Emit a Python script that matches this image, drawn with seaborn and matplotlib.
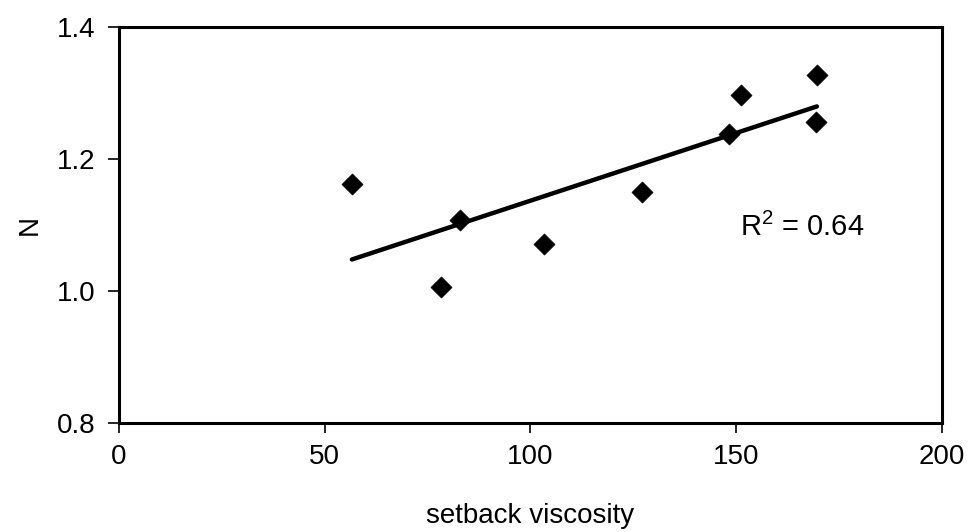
import matplotlib
matplotlib.use("Agg")
import matplotlib.pyplot as plt
import seaborn as sns
import pandas as pd

viscosity = [56.6, 78.2, 82.9, 103.3, 127.1, 148.2, 151.2, 169.6, 169.4]
n_values = [1.162, 1.006, 1.108, 1.071, 1.150, 1.238, 1.297, 1.327, 1.256]
x_ticks = [0, 50, 100, 150, 200]
y_ticks = [0.8, 1.0, 1.2, 1.4]
y_tick_labels = ["0.8", "1.0", "1.2", "1.4"]
r2_text = "R$^2$ = 0.64"

df = pd.DataFrame({"setback viscosity": viscosity, "N": n_values})

sns.set_style("white")
plt.rcParams["font.family"] = ["Liberation Sans", "DejaVu Sans"]
plt.rcParams["mathtext.fontset"] = "custom"
plt.rcParams["mathtext.rm"] = "Liberation Sans"
plt.rcParams["text.color"] = "black"

fig = plt.figure(figsize=(9.69, 5.32), dpi=100)
ax = fig.add_axes([0.1228, 0.205, 0.9721 - 0.1228, 0.949 - 0.205])

sns.regplot(data=df, x="setback viscosity", y="N", ci=None, ax=ax,
            marker="D",
            scatter_kws={"s": 115, "color": "black", "alpha": 1,
                         "edgecolor": "black", "linewidths": 0.5, "zorder": 3},
            line_kws={"color": "black", "linewidth": 3.2})

ax.set_xlim(0, 200)
ax.set_ylim(0.8, 1.4)
ax.set_xticks(x_ticks)
ax.set_xticklabels([str(t) for t in x_ticks])
ax.set_yticks(y_ticks)
ax.set_yticklabels(y_tick_labels)
ax.tick_params(axis="x", direction="out", length=7, width=1.2, labelsize=20,
               bottom=True, colors="black", pad=8)
ax.tick_params(axis="y", direction="out", length=8, width=1.2, labelsize=20,
               left=True, colors="black", pad=9)
for s in ax.spines.values():
    s.set_visible(True)
    s.set_color("black")
    s.set_linewidth(2.2)

ax.set_xlabel("setback viscosity", fontsize=20, color="black")
ax.set_ylabel("N", fontsize=20, color="black")
ax.xaxis.label.set_va("center")
ax.xaxis.set_label_coords(0.5, -0.235)
ax.yaxis.label.set_va("center")
ax.yaxis.set_label_coords(-0.108, 0.5)
ax.text(151.0, 1.097, r2_text, fontsize=21, va="center", ha="left", color="black")

fig.savefig("out.png", dpi=100)
